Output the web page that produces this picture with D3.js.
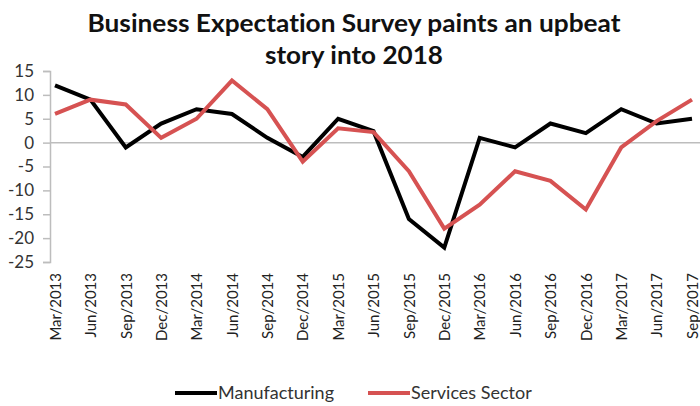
<!DOCTYPE html>
<html>
<head>
<meta charset="utf-8">
<script src="https://cdn.jsdelivr.net/npm/d3@7"></script>
<style>
  html, body { margin: 0; padding: 0; background: #fff; }
  svg { display: block; }
  text { font-family: Lato, "Open Sans", sans-serif; font-variant-ligatures: none; font-feature-settings: "liga" 0; }
</style>
</head>
<body>
<svg id="chart" width="700" height="406"></svg>
<script>
const categories = ["Mar/2013","Jun/2013","Sep/2013","Dec/2013","Mar/2014","Jun/2014","Sep/2014","Dec/2014",
  "Mar/2015","Jun/2015","Sep/2015","Dec/2015","Mar/2016","Jun/2016","Sep/2016","Dec/2016","Mar/2017","Jun/2017","Sep/2017"];
const manufacturing = [12, 9, -1, 4, 7, 6, 1, -3, 5, 2.4, -16, -22, 1, -1, 4, 2, 7, 4, 5];
const services = [6, 9, 8, 1, 5, 13, 7, -4, 3, 2.2, -6, -18, -13, -6, -8, -14, -1, 4.5, 9];
const yTicks = [15, 10, 5, 0, -5, -10, -15, -20, -25];
const seriesNames = ["Manufacturing", "Services Sector"];
const seriesColors = ["#000000", "#d65252"];
const titleLines = ["Business Expectation Survey paints an upbeat", "story into 2018"];

const svg = d3.select("#chart");

const x = d3.scalePoint().domain(categories).range([55, 692]);
const y = d3.scaleLinear().domain([-25, 15]).range([262, 71]);

// Title
svg.append("text").attr("x", 354).attr("y", 32).attr("text-anchor", "middle")
  .attr("font-size", 24).attr("font-weight", 700).attr("fill", "#111")
  .attr("textLength", 533).attr("lengthAdjust", "spacingAndGlyphs")
  .text(titleLines[0]);
svg.append("text").attr("x", 354).attr("y", 64).attr("text-anchor", "middle")
  .attr("font-size", 24).attr("font-weight", 700).attr("fill", "#111")
  .attr("textLength", 178).attr("lengthAdjust", "spacingAndGlyphs")
  .text(titleLines[1]);

// Y axis
const yAxis = d3.axisLeft(y).tickValues(yTicks).tickSize(7).tickPadding(9).tickFormat(d3.format("d"));
const gy = svg.append("g").attr("transform", "translate(50,0)").call(yAxis);
gy.select(".domain").attr("stroke", "#bdbdbd").attr("stroke-width", 1.5);
gy.selectAll(".tick line").attr("stroke", "#bdbdbd").attr("stroke-width", 1.5);
gy.selectAll(".tick text").attr("font-size", 17).attr("fill", "#333")
  .attr("font-family", "Lato, sans-serif").text(d => d < 0 ? "-" + Math.abs(d) : d);

// Zero line (category axis)
svg.append("line").attr("x1", 50).attr("x2", 700).attr("y1", y(0)).attr("y2", y(0))
  .attr("stroke", "#bdbdbd").attr("stroke-width", 1.5);

// X labels (rotated)
const xAxis = d3.axisBottom(x).tickSize(0).tickPadding(0);
const gx = svg.append("g").attr("transform", "translate(0,273)").call(xAxis);
gx.select(".domain").remove();
gx.selectAll(".tick text")
  .attr("font-size", 15).attr("fill", "#222").attr("font-family", "Lato, sans-serif")
  .attr("transform", "rotate(-90)").attr("text-anchor", "end")
  .attr("x", 0).attr("y", 0).attr("dy", "0.35em");

// Lines
const line = d3.line().x((d, i) => x(categories[i])).y(d => y(d));
[manufacturing, services].forEach((s, k) => {
  svg.append("path").datum(s).attr("d", line)
    .attr("fill", "none").attr("stroke", seriesColors[k]).attr("stroke-width", 4)
    .attr("stroke-linejoin", "miter").attr("stroke-linecap", "butt");
});

// Legend
const legendX = [175, 368];
seriesNames.forEach((name, k) => {
  const g = svg.append("g").attr("transform", `translate(${legendX[k]},393)`);
  g.append("line").attr("x1", 0).attr("x2", 42).attr("y1", 0).attr("y2", 0)
    .attr("stroke", seriesColors[k]).attr("stroke-width", 4);
  g.append("text").attr("x", 43).attr("y", 0).attr("dy", "0.35em")
    .attr("font-size", 18).attr("fill", "#333").text(name);
});
</script>
</body>
</html>
